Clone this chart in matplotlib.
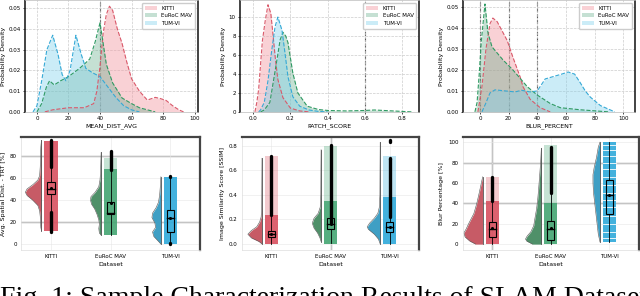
import numpy as np
import matplotlib.pyplot as plt
from matplotlib.patches import Rectangle

datasets = ['KITTI', 'EuRoC MAV', 'TUM-VI']
pos = [0, 1, 2]

# ---- top row: density curves ----
# left panel (MEAN_DIST_AVG)
d1_kitti_x = [5, 10, 20, 30, 36, 38, 40, 42, 44, 46, 48, 51, 54, 57, 60, 65, 70, 75, 78, 82, 86, 90, 93]
d1_kitti_y = [0, .001, .002, .002, .004, .010, .022, .038, .047, .051, .049, .040, .033, .024, .016, .010, .0057, .007, .0065, .0055, .003, .001, 0]
d1_euroc_x = [0, 3, 6, 8, 11, 15, 20, 27, 30, 33.5, 37, 40, 44, 48, 54, 60, 65, 70, 75]
d1_euroc_y = [0, .004, .012, .015, .013, .015, .017, .021, .023, .0255, .034, .043, .023, .014, .0067, .004, .002, .001, 0]
d1_tum_x = [-2.5, 0, 3, 6.3, 10, 13.3, 16, 18.4, 21, 24.7, 28, 31, 35, 40, 45, 50, 55, 60, 65]
d1_tum_y = [0, .003, .015, .030, .037, .028, .018, .015, .020, .037, .028, .021, .019, .017, .012, .007, .003, .001, 0]

# middle panel (PATCH_SCORE)
d2_kitti_x = [.01, .02, .03, .04, .05, .065, .08, .095, .105, .12, .133, .16, .2, .25, .3]
d2_kitti_y = [0, 1.0, 2.4, 5.0, 7.5, 9.6, 11.3, 10.4, 8.5, 5.5, 3.4, 1.5, .4, .1, 0]
d2_euroc_x = [.04, .06, .09, .107, .128, .145, .16, .175, .187, .213, .24, .29, .35, .4, .5, .6, .65, .7, .75, .8, .85]
d2_euroc_y = [0, .2, 1.0, 3.0, 5.5, 7.6, 8.4, 8.0, 7.3, 4.1, 2.0, .6, .25, .15, .1, .15, .2, .15, .1, .05, 0]
d2_tum_x = [.03, .04, .06, .08, .10, .118, .133, .155, .171, .187, .213, .25, .3, .35, .4]
d2_tum_y = [0, .2, 1.0, 3.3, 6.5, 9.0, 10.0, 8.6, 6.2, 3.7, 1.6, .6, .2, .05, 0]

# right panel (BLUR_PERCENT)
d3_kitti_x = [-1.4, 1.4, 4.2, 7, 9, 12, 19, 23, 28, 30, 35, 42, 49]
d3_kitti_y = [0, .012, .030, .042, .0447, .043, .034, .026, .0167, .012, .006, .002, 0]
d3_euroc_x = [-3.5, -2, -0.5, 1, 3.5, 5.6, 8.4, 16, 23, 28, 33, 40, 49, 56, 70, 84, 90]
d3_euroc_y = [0, .0045, .018, .034, .0514, .0376, .031, .0248, .020, .016, .012, .008, .004, .002, .001, .0003, 0]
d3_tum_x = [1.4, 4, 7, 10.5, 17.5, 24.5, 29, 35, 40, 45.5, 52, 57, 61.5, 66, 70, 73.4, 77, 84, 89, 94]
d3_tum_y = [0, .004, .009, .0105, .010, .0095, .0103, .0095, .010, .0157, .017, .018, .019, .018, .0138, .010, .007, .003, .0015, 0]

top_xlabels = ['MEAN_DIST_AVG', 'PATCH_SCORE', 'BLUR_PERCENT']
top_xticks = [[0, 20, 40, 60, 80, 100], [0.0, 0.2, 0.4, 0.6, 0.8], [0, 20, 40, 60, 80, 100]]
top_yticks = [[0, .01, .02, .03, .04, .05], [0, 2, 4, 6, 8, 10], [0, .01, .02, .03, .04, .05]]
top_xlim = [(-7.6, 102), (-0.07, 0.89), (-12, 108)]
top_ylim = [(0, 0.054), (0, 11.8), (0, 0.0533)]
top_vlines = [[40], [0.6], [0, 20, 40]]

# ---- bottom row: raincloud pieces ----
bot_ylabels = ['Avg. Spatial Dist. - TRT [%]', 'Image Similarity Score [SSIM]', 'Blur Percentage [%]']
bot_yticks = [[0, 20, 40, 60, 80], [0.0, 0.2, 0.4, 0.6, 0.8], [0, 20, 40, 60, 80, 100]]
bot_ylim = [(-5.5, 97), (-0.05, 0.873), (-5.9, 105)]

# half violins: (values, half widths) per dataset
v1 = [([12, 15, 20, 25, 30, 35, 40, 44, 47, 50, 54, 58, 62, 70, 80, 88, 94],
       [0, .01, .015, .02, .03, .06, .15, .24, .27, .24, .14, .06, .03, .02, .015, .01, 0]),
      ([8, 10, 14, 18, 22, 27, 32, 36, 40, 43, 47, 52, 58, 65, 75, 83],
       [0, .03, .04, .03, .04, .07, .11, .16, .18, .17, .10, .04, .02, .01, .005, 0]),
      ([0, 3, 7, 11, 15, 19, 24, 28, 33, 38, 45, 52, 61],
       [0, .05, .12, .14, .09, .10, .15, .14, .08, .04, .02, .01, 0])]
v2 = [([0, .02, .05, .08, .11, .14, .18, .22, .3, .5, .7],
       [0, .05, .18, .24, .18, .09, .04, .015, .005, .003, 0]),
      ([.02, .05, .09, .13, .17, .21, .25, .3, .4, .6, .77],
       [0, .02, .06, .12, .15, .12, .05, .015, .005, .003, 0]),
      ([0, .04, .08, .12, .14, .17, .21, .25, .3, .4, .6, .83],
       [0, .03, .10, .20, .22, .18, .10, .04, .015, .005, .003, 0])]
v3 = [([0, 3, 7, 11, 15, 20, 30, 40, 50, 58, 66],
       [.12, .22, .30, .32, .28, .24, .15, .10, .06, .03, 0]),
      ([0, 3, 5, 8, 12, 18, 25, 35, 45, 55, 70, 82, 94],
       [.15, .25, .27, .24, .18, .13, .11, .08, .06, .045, .025, .01, 0]),
      ([2, 10, 20, 30, 40, 50, 60, 68, 75, 85, 95, 100],
       [0, .03, .05, .07, .09, .11, .12, .12, .10, .06, .03, 0])]
violins = [v1, v2, v3]

# strips: (dense low, dense high, sparse high)
strips = [[(12, 93, 93), (8, 68, 78), (0, 61, 61)],
          [(0, .24, .72), (0, .35, .80), (0, .38, .72)],
          [(0, 42, 66), (0, 40, 97), (2, 100, 100)]]
tum_blur_gaps = [97, 92, 86, 80, 74, 66, 58, 50, 43, 36, 28, 20, 12, 6]

# boxes: (whisker low, q1, median, q3, whisker high, mean)
boxes = [[(29, 45, 50, 56, 70, 51), (8, 27, 28, 38, 67, 37), (0, 11, 24, 31, 61, 24)],
         [(0, .06, .08, .11, .24, .085), (.01, .12, .16, .21, .4, .16), (0, .10, .14, .18, .38, .14)],
         [(0, 7, 15, 22, 42, 16), (0, 4, 15, 23, 50, 16), (2, 30, 48, 63, 100, 48)]]

# dense black outlier runs
outliers = [[[(70, 94.5), (11, 29)], [(67, 84)], [(60.5, 61.5), (0, 1)]],
            [[(.24, .72)], [(.17, .81)], [(.22, .69), (.835, .845), (.695, .705)]],
            [[(42, 66)], [(50, 95)], []]]

# darker reference lines
dark_h = [[20, 80], [], [40, 80]]
dark_v = [[], [1], [0]]

fill_c = ['#f29aa3', '#5aa882', '#7fd0ec']
edge_c = ['#d9596a', '#2f9a63', '#35a9d6']
fill_a = [0.45, 0.35, 0.4]
viol_c = ['#c75b66', '#4f9069', '#3f9fc4']
strip_c = ['#d9505f', '#43a572', '#2ea9da']

fig = plt.figure(figsize=(6.4, 2.96), dpi=100)
top_rects = [[0.039, 0.622, 0.270, 0.378], [0.375, 0.622, 0.280, 0.378], [0.723, 0.622, 0.269, 0.378]]
bot_rects = [[0.033, 0.155, 0.280, 0.382], [0.378, 0.155, 0.277, 0.382], [0.723, 0.155, 0.275, 0.382]]

dens = [[(d1_kitti_x, d1_kitti_y), (d1_euroc_x, d1_euroc_y), (d1_tum_x, d1_tum_y)],
        [(d2_kitti_x, d2_kitti_y), (d2_euroc_x, d2_euroc_y), (d2_tum_x, d2_tum_y)],
        [(d3_kitti_x, d3_kitti_y), (d3_euroc_x, d3_euroc_y), (d3_tum_x, d3_tum_y)]]

for k in range(3):
    ax = fig.add_axes(top_rects[k])
    for i in range(3):
        xs, ys = dens[k][i]
        ax.fill_between(xs, ys, color=fill_c[i], alpha=fill_a[i], lw=0, label=datasets[i])
        ax.plot(xs, ys, color=edge_c[i], lw=0.8, ls='--')
    for v in top_vlines[k]:
        ax.axvline(v, color='#555555', lw=0.8, ls='--', zorder=0)
    ax.grid(True, ls='--', lw=0.5, color='#cccccc')
    ax.set_axisbelow(True)
    ax.set_xlim(top_xlim[k])
    ax.set_ylim(top_ylim[k])
    ax.set_xticks(top_xticks[k])
    ax.set_yticks(top_yticks[k])
    if k == 1:
        ax.set_yticklabels([str(t) for t in top_yticks[k]])
        ax.set_xticklabels(['%.1f' % t for t in top_xticks[k]])
    else:
        ax.set_yticklabels(['%.2f' % t for t in top_yticks[k]])
    ax.tick_params(labelsize=4, length=1.5, width=0.5, pad=1.5)
    ax.set_xlabel(top_xlabels[k], fontsize=4.5, labelpad=1.5)
    ax.set_ylabel('Probability Density', fontsize=4.5, labelpad=2)
    for s in ['left', 'right']:
        ax.spines[s].set_color('#222222')
        ax.spines[s].set_linewidth(1.2)
    for s in ['top', 'bottom']:
        ax.spines[s].set_color('#bbbbbb')
        ax.spines[s].set_linewidth(0.5)
    ax.legend(loc='upper right', fontsize=4, frameon=True, framealpha=1,
              edgecolor='#cccccc', handlelength=2.2, borderpad=0.5, labelspacing=0.5)

for k in range(3):
    ax = fig.add_axes(bot_rects[k])
    ax.grid(True, lw=0.4, color='#e6e6e6')
    ax.set_axisbelow(True)
    for h in dark_h[k]:
        ax.axhline(h, color='#9a9a9a', lw=1.0, zorder=0.5)
    for v in dark_v[k]:
        ax.axvline(v, color='#9a9a9a', lw=1.0, zorder=0.5)
    for i in range(3):
        x = pos[i]
        vals, wid = violins[k][i]
        base = x - 0.16
        ax.fill_betweenx(vals, base - np.array(wid), base, color=viol_c[i], lw=0, zorder=2)
        ax.plot(base - np.array(wid), vals, color='#555555', lw=0.4, zorder=2.1)
        ax.plot([base, base], [vals[0], vals[-1]], color='#555555', lw=0.6, zorder=2.1)
        lo, hi, sp = strips[k][i]
        ax.bar(x, hi - lo, bottom=lo, width=0.22, color=strip_c[i], alpha=0.9, lw=0, zorder=2)
        if sp > hi:
            ax.bar(x, sp - hi, bottom=hi, width=0.22, color=strip_c[i], alpha=0.3, lw=0, zorder=2)
        wl, q1, med, q3, wh, mn = boxes[k][i]
        ax.plot([x, x], [wl, q1], color='k', lw=0.6, zorder=3)
        ax.plot([x, x], [q3, wh], color='k', lw=0.6, zorder=3)
        ax.add_patch(Rectangle((x - 0.06, q1), 0.12, q3 - q1, fill=False, ec='k', lw=0.8, zorder=3))
        ax.plot([x - 0.06, x + 0.06], [med, med], color='k', lw=1.0, zorder=3)
        ax.plot(x, mn, 'o', color='k', ms=1.2, zorder=3.2)
        for a, b in outliers[k][i]:
            ax.plot([x, x], [a, b], color='k', lw=2.4, solid_capstyle='round', zorder=3.1)
    if k == 2:
        for g in tum_blur_gaps:
            ax.plot([2 - 0.11, 2 + 0.11], [g, g], color='white', lw=0.6, zorder=2.5)
    ax.set_xlim(-0.5, 2.5)
    ax.set_ylim(bot_ylim[k])
    ax.set_xticks(pos)
    ax.set_xticklabels(datasets)
    ax.set_yticks(bot_yticks[k])
    if k == 1:
        ax.set_yticklabels(['%.1f' % t for t in bot_yticks[k]])
    ax.tick_params(labelsize=4, length=0, pad=3)
    ax.set_xlabel('Dataset', fontsize=4.5, labelpad=2)
    ax.set_ylabel(bot_ylabels[k], fontsize=4.5, labelpad=3)
    for s in ['top', 'right']:
        ax.spines[s].set_color('#444444')
        ax.spines[s].set_linewidth(1.6)
    for s in ['left', 'bottom']:
        ax.spines[s].set_color('#dddddd')
        ax.spines[s].set_linewidth(0.5)

fig.text(0.0, 1 - 286 / 296, 'Fig. 1: Sample Characterization Results of SLAM Datasets',
         fontsize=20, family=['Liberation Serif', 'DejaVu Serif'], va='top', ha='left')

fig.savefig('out.png', dpi=100)
